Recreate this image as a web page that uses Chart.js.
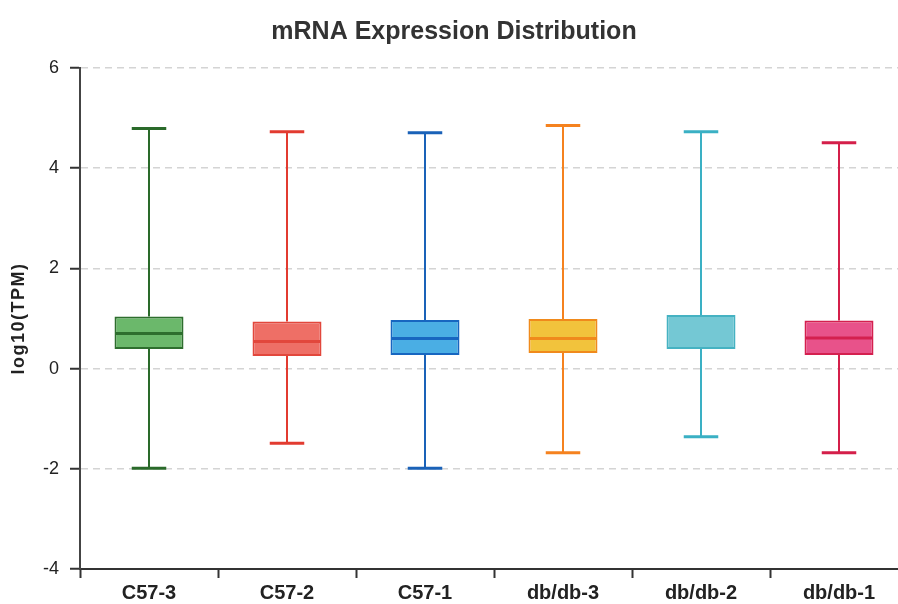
<!DOCTYPE html>
<html>
<head>
<meta charset="utf-8">
<script src="https://cdn.jsdelivr.net/npm/chart.js@4"></script>
<style>
html,body{margin:0;padding:0;background:#fff;overflow:hidden;width:898px;height:604px;}
canvas{display:block;}
</style>
</head>
<body>
<canvas id="c" width="908" height="604" style="width:908px;height:604px"></canvas>
<script>
const categories = ['C57-3', 'C57-2', 'C57-1', 'db/db-3', 'db/db-2', 'db/db-1'];
const minVals    = [-1.99, -1.49, -1.99, -1.68, -1.36, -1.68];
const q1Vals     = [0.39, 0.25, 0.27, 0.31, 0.39, 0.27];
const medianVals = [0.70, 0.54, 0.60, 0.60, null, 0.61];
const q3Vals     = [1.04, 0.94, 0.97, 0.99, 1.07, 0.96];
const maxVals    = [4.79, 4.73, 4.71, 4.85, 4.73, 4.51];
const yTicks     = [-4, -2, 0, 2, 4, 6];

const fillColors   = ['#6bb86b', '#ee6f66', '#4aaee4', '#f2c33c', '#74c8d4', '#e8528a'];
const borderColors = ['#2e6e2e', '#e2473c', '#1766c0', '#f08a1c', '#45b2c2', '#d4204f'];
const whiskerColors= ['#2a6a2a', '#e23b30', '#1a62b8', '#f5821f', '#3ab0c4', '#d41f4a'];

const FONT = 'Arial, "Liberation Sans", Helvetica, sans-serif';

const boxPlugin = {
  id: 'boxParts',
  beforeDatasetsDraw(chart) {
    const ctx = chart.ctx, y = chart.scales.y;
    const meta = chart.getDatasetMeta(0);
    meta.data.forEach((bar, i) => {
      const x = bar.x, w = bar.width;
      ctx.save();
      ctx.strokeStyle = whiskerColors[i];
      ctx.lineWidth = 2;
      ctx.beginPath();
      ctx.moveTo(x, y.getPixelForValue(q3Vals[i]));
      ctx.lineTo(x, y.getPixelForValue(maxVals[i]));
      ctx.moveTo(x, y.getPixelForValue(q1Vals[i]));
      ctx.lineTo(x, y.getPixelForValue(minVals[i]));
      ctx.stroke();
      ctx.lineWidth = 3;
      ctx.beginPath();
      [maxVals[i], minVals[i]].forEach(v => {
        const py = y.getPixelForValue(v);
        ctx.moveTo(x - w / 4, py);
        ctx.lineTo(x + w / 4, py);
      });
      ctx.stroke();
      ctx.restore();
    });
  },
  afterDatasetsDraw(chart) {
    const ctx = chart.ctx, y = chart.scales.y;
    const meta = chart.getDatasetMeta(0);
    meta.data.forEach((bar, i) => {
      if (medianVals[i] === null) return;
      const x = bar.x, w = bar.width;
      const py = y.getPixelForValue(medianVals[i]);
      ctx.save();
      ctx.strokeStyle = borderColors[i];
      ctx.lineWidth = 3;
      ctx.beginPath();
      ctx.moveTo(x - w / 2 + 1, py);
      ctx.lineTo(x + w / 2 - 1, py);
      ctx.stroke();
      ctx.restore();
    });
  },
  afterDraw(chart) {
    const ctx = chart.ctx;
    const area = chart.chartArea;
    ctx.save();
    ctx.fillStyle = '#333';
    ctx.font = 'bold 25px ' + FONT;
    ctx.textAlign = 'center';
    ctx.textBaseline = 'middle';
    ctx.fillText('mRNA Expression Distribution', 454, 32);
    ctx.restore();

    ctx.save();
    ctx.translate(19, (area.top + area.bottom) / 2);
    ctx.rotate(-Math.PI / 2);
    ctx.fillStyle = '#222';
    ctx.font = 'bold 18px ' + FONT;
    if ('letterSpacing' in ctx) ctx.letterSpacing = '1.5px';
    ctx.textAlign = 'center';
    ctx.textBaseline = 'middle';
    ctx.fillText('log10(TPM)', 0, 0);
    ctx.restore();
  }
};

new Chart(document.getElementById('c'), {
  type: 'bar',
  data: {
    labels: categories,
    datasets: [{
      data: q1Vals.map((v, i) => [v, q3Vals[i]]),
      backgroundColor: fillColors,
      borderColor: borderColors,
      borderWidth: 2,
      borderSkipped: false,
      barPercentage: 0.5,
      categoryPercentage: 1.0
    }]
  },
  options: {
    responsive: false,
    animation: false,
    layout: { padding: { top: 68, right: 0, bottom: 0, left: 0 } },
    plugins: { legend: { display: false }, tooltip: { enabled: false }, title: { display: false } },
    scales: {
      x: {
        afterFit(s) { s.height = 35; },
        grid: { display: true, drawOnChartArea: false, offset: true, tickLength: 9, tickColor: '#333', tickWidth: 2 },
        border: { display: true, color: '#333', width: 2 },
        ticks: { color: '#222', font: { family: FONT, size: 20, weight: 'bold' }, padding: 3 }
      },
      y: {
        min: -4, max: 6,
        afterFit(s) { s.width = 80; },
        afterBuildTicks(s) { s.ticks = yTicks.map(v => ({ value: v })); },
        grid: {
          color: ctx => (ctx.tick && ctx.tick.value === -4) ? 'rgba(0,0,0,0)' : '#d4d4d4',
          lineWidth: 1.5,
          tickLength: 10, tickColor: '#333', tickWidth: 2, tickBorderDash: []
        },
        border: { display: true, color: '#444', width: 2, dash: [7, 5] },
        ticks: { color: '#222', font: { family: FONT, size: 18 }, padding: 11 },
        title: { display: false }
      }
    }
  },
  plugins: [boxPlugin]
});
</script>
</body>
</html>
